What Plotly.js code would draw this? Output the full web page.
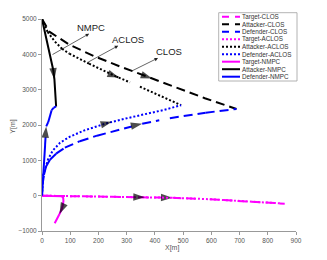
<!DOCTYPE html>
<html><head><meta charset="utf-8">
<script src="https://cdn.plot.ly/plotly-3.0.1.min.js"></script>
<style>html,body{margin:0;padding:0;background:#fff}#c{width:327px;height:260px}</style>
</head><body><div id="c"></div>
<script>
// ---- data ----
const tgtClosX = [0, 100, 200, 343, 462, 594, 736, 860];
const tgtClosY = [0, -10, -20, -40, -60, -100, -160, -228];
const tgtClosArrow = [4];

const atkClosX = [0, 11, 26, 97, 185, 274, 382, 390, 471, 577, 689];
const atkClosY = [5000, 4839, 4641, 4273, 3947, 3664, 3338, 3315, 3070, 2758, 2453];
const atkClosArrow = [7];

const defClosX = [0, 2, 7, 14, 28, 50, 81, 134, 195, 251, 340, 355, 453, 580, 689];
const defClosY = [0, 311, 594, 820, 1019, 1189, 1358, 1542, 1698, 1811, 2009, 2035, 2192, 2348, 2453];
const defClosArrow = [11];

const tgtAclosX = [0, 100, 200, 343, 364, 462, 594, 736, 850];
const tgtAclosY = [0, -10, -20, -40, -44, -60, -100, -160, -220];
const tgtAclosArrow = [4];

const atkAclosX = [0, 9, 20, 46, 71, 97, 167, 264, 272, 347, 418, 493];
const atkAclosY = [5000, 4839, 4632, 4357, 4159, 4018, 3735, 3367, 3342, 3084, 2829, 2560];
const atkAclosArrow = [8];

const defAclosX = [0, 1, 3.5, 10.6, 21, 38, 64, 99, 152, 232, 248, 294, 364, 428, 493];
const defAclosY = [0, 311, 566, 736, 1019, 1274, 1499, 1670, 1853, 2056, 2090, 2178, 2305, 2419, 2560];
const defAclosArrow = [10];

const tgtNmpcX = [0, 30, 60, 70, 75, 76, 74, 70, 62, 54, 45];
const tgtNmpcY = [0, -5, -10, -20, -60, -150, -260, -380, -520, -650, -780];
const tgtNmpcArrow = [8];

const atkNmpcX = [0, 8, 16, 26, 34, 40, 44, 47, 49, 50];
const atkNmpcY = [5000, 4700, 4400, 4100, 3800, 3550, 3290, 3000, 2750, 2525];
const atkNmpcArrow = [6];

const defNmpcX = [0, 2, 4, 6, 8, 11, 15, 22, 28, 34, 42, 50];
const defNmpcY = [0, 250, 600, 950, 1300, 1600, 1960, 2080, 2280, 2420, 2490, 2525];
const defNmpcArrow = [6];

const seriesNames = ['Target-CLOS', 'Attacker-CLOS', 'Defender-CLOS',
                     'Target-ACLOS', 'Attacker-ACLOS', 'Defender-ACLOS',
                     'Target-NMPC', 'Attacker-NMPC', 'Defender-NMPC'];

const xTickVals = [0, 100, 200, 300, 400, 500, 600, 700, 800, 900];
const yTickVals = [-1000, 0, 1000, 2000, 3000, 4000, 5000];
const xTitle = 'X[m]';
const yTitle = 'Y[m]';

// labels with pointer lines: [textX, textY, headX, headY, tailX, tailY]
const labelNames = ['NMPC', 'ACLOS', 'CLOS'];
const labelPos = [[173, 4754, 167, 4584, 32, 3970],
                  [304, 4414, 270, 4244, 158, 3755],
                  [449, 4074, 411, 3896, 311, 3500]];

// ---- styles ----
const MAG = '#ff00ff', BLK = '#000000', BLU = '#0000ff';
const DASH = '9px,5px', DOT = '2px,2px';
const FONT = 'Liberation Sans, Arial, sans-serif';
const styles = [
  {c: MAG, d: DASH}, {c: BLK, d: DASH}, {c: BLU, d: DASH},
  {c: MAG, d: DOT}, {c: BLK, d: DOT}, {c: BLU, d: DOT},
  {c: MAG, d: 'solid'}, {c: BLK, d: 'solid'}, {c: BLU, d: 'solid'}
];
const dataSets = [
  [tgtClosX, tgtClosY, tgtClosArrow], [atkClosX, atkClosY, atkClosArrow], [defClosX, defClosY, defClosArrow],
  [tgtAclosX, tgtAclosY, tgtAclosArrow], [atkAclosX, atkAclosY, atkAclosArrow], [defAclosX, defAclosY, defAclosArrow],
  [tgtNmpcX, tgtNmpcY, tgtNmpcArrow], [atkNmpcX, atkNmpcY, atkNmpcArrow], [defNmpcX, defNmpcY, defNmpcArrow]
];

const traces = dataSets.map((ds, i) => {
  const sizes = ds[0].map((_, k) => ds[2].includes(k) ? 12 : 0);
  return {
    type: 'scatter', mode: 'lines+markers', name: seriesNames[i],
    x: ds[0], y: ds[1],
    line: {color: styles[i].c, width: 2, dash: styles[i].d},
    marker: {symbol: 'arrow', size: sizes, angleref: 'previous', color: '#000', line: {width: 0}},
    showlegend: false, hoverinfo: 'skip'
  };
});

// ---- custom legend (paper coords) ----
const L = 42, T = 19, W = 254, H = 212;
const px2x = p => (p - L) / W;
const px2y = p => (T + H - p) / H;
const shapes = [{
  type: 'rect', xref: 'paper', yref: 'paper',
  x0: px2x(218.7), x1: px2x(297), y0: px2y(81), y1: px2y(12.7),
  line: {color: '#a0a0a0', width: 0.8}, fillcolor: '#ffffff', layer: 'above'
}];
const annotations = [];
seriesNames.forEach((nm, i) => {
  const py = 16.7 + i * 7.5;
  const d = styles[i].d === DASH ? '7px,6px' : styles[i].d;
  shapes.push({type: 'line', xref: 'paper', yref: 'paper',
    x0: px2x(222), x1: px2x(240), y0: px2y(py), y1: px2y(py),
    line: {color: styles[i].c, width: 2, dash: d}, layer: 'above'});
  annotations.push({xref: 'paper', yref: 'paper', x: px2x(240), y: px2y(py),
    xanchor: 'left', yanchor: 'middle', text: nm, showarrow: false,
    font: {family: FONT, size: 6.3, color: '#333'}});
});

labelNames.forEach((t, i) => {
  const p = labelPos[i];
  annotations.push({x: p[0], y: p[1], xref: 'x', yref: 'y', text: t, showarrow: false,
    font: {family: FONT, size: 9.5, color: '#222'}});
  annotations.push({x: p[2], y: p[3], xref: 'x', yref: 'y', ax: p[4], ay: p[5], axref: 'x', ayref: 'y',
    text: '', showarrow: true, arrowhead: 2, arrowsize: 1, arrowwidth: 0.7, arrowcolor: '#222'});
});

// axis titles
annotations.push({xref: 'paper', yref: 'paper', x: px2x(172), y: px2y(248), text: xTitle,
  showarrow: false, xanchor: 'center', yanchor: 'middle', font: {family: FONT, size: 7, color: '#555'}});
annotations.push({xref: 'paper', yref: 'paper', x: px2x(12.7), y: px2y(127), text: yTitle, textangle: -90,
  showarrow: false, xanchor: 'center', yanchor: 'middle', font: {family: FONT, size: 7, color: '#555'}});

const axisCommon = {
  showgrid: false, zeroline: false, showline: true, linecolor: '#999', linewidth: 1,
  ticks: 'outside', ticklen: 3, tickcolor: '#999', tickwidth: 1,
  tickfont: {family: FONT, size: 6.5, color: '#555'},
  mirror: false, fixedrange: true
};

const layout = {
  width: 327, height: 260,
  margin: {l: L, r: 327 - L - W, t: T, b: 260 - T - H},
  paper_bgcolor: '#fff', plot_bgcolor: '#fff',
  showlegend: false,
  xaxis: Object.assign({}, axisCommon, {range: [0, 900], tickvals: xTickVals}),
  yaxis: Object.assign({}, axisCommon, {range: [-1000, 5000], tickvals: yTickVals}),
  shapes: shapes, annotations: annotations
};

Plotly.newPlot('c', traces, layout, {displayModeBar: false, staticPlot: true});
</script></body></html>
